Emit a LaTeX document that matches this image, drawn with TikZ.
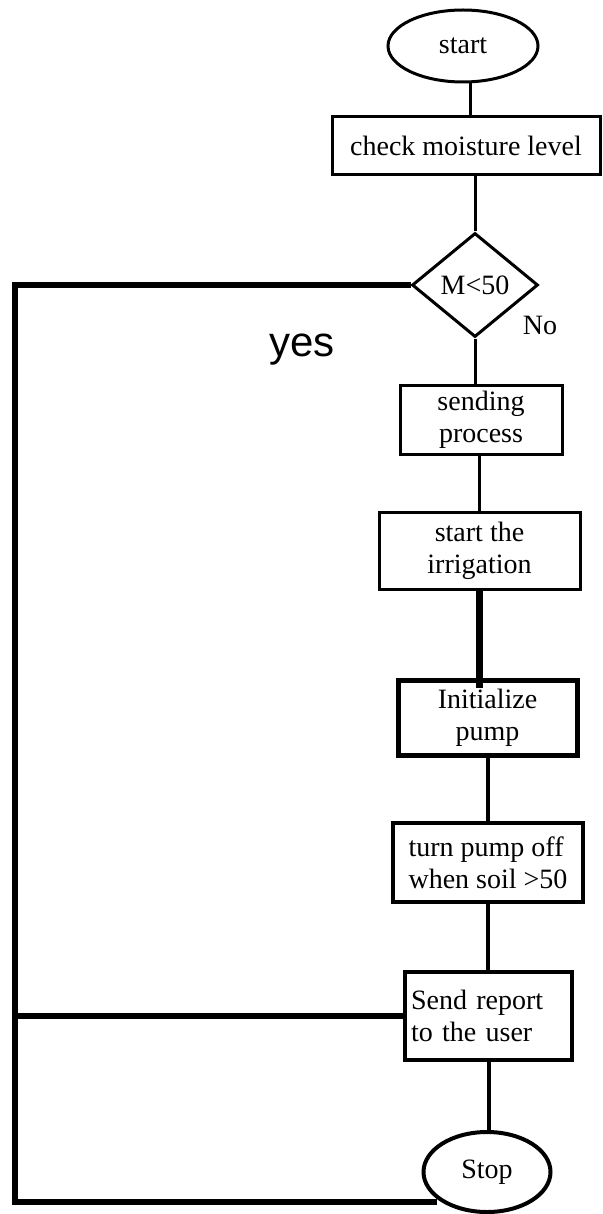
\documentclass[tikz,border=0pt]{standalone}
\usepackage{fontspec}
\setmainfont{Liberation Serif}
\newfontfamily\yesfont{Liberation Sans}
\usepackage{tikz}
\usetikzlibrary{shapes.geometric}
\tikzset{%
  every box/.style={
    rectangle,
    draw,
    line width=1.5pt,
    inner sep=3pt,
    align=center,
    font=\fontsize{14}{16}\selectfont
  },
  every terminal/.style={
    ellipse,
    draw,
    line width=1.5pt,
    inner sep=0pt,
    font=\fontsize{14}{16}\selectfont
  },
  every decision/.style={
    diamond,
    draw,
    line width=1.5pt,
    inner sep=0pt,
    font=\fontsize{14}{16}\selectfont
  },
  thin link/.style={line width=1.5pt},
  thick link/.style={line width=2.8pt},
}

\begin{document}
\begin{tikzpicture}[x=0.5pt, y=-0.5pt]
\useasboundingbox (0,0) rectangle (603,1214);
    % steps of the flow
    \node[every terminal, minimum width=75pt, minimum height=36pt] (start) at (463,46) {start};
    \node[every box, minimum width=134pt, minimum height=29pt] (check) at (466,146) {check moisture level};
    \node[every decision, minimum width=63pt, minimum height=52pt] (decide) at (475,285) {M<50};
    \node[every box, minimum width=81pt, minimum height=32pt] (sending) at (481,420) {sending\\process};
    \node[every box, minimum width=100.5pt, minimum height=38.5pt] (irrig) at (479.5,550.5) {start the\\irrigation};
    \node[every box, line width=2.5pt, minimum width=89.5pt, minimum height=37.5pt] (init) at (487.5,717.5) {Initialize\\pump};
    \node[every box, line width=2pt, align=left, minimum width=95pt, minimum height=39.5pt] (pumpoff) at (488,862.5) {turn pump off\\when soil >50};
    \node[every box, line width=2pt, align=left, text width=77.5pt, minimum height=44pt] (report) at (488.5,1016) {Send report\\to the user};
    \node[every terminal, line width=2pt, minimum width=63.5pt, minimum height=40pt] (stop) at (487,1172) {Stop};
    \node[font=\fontsize{14}{16}\selectfont] (no label) at (540,325) {No};
    \node[font=\yesfont\fontsize{21}{24}\selectfont] (yes label) at (302,350) {yes};
    \coordinate (loop corner) at (15,1202);
    \coordinate (stop join) at (437,1202);
    % connectors
    \draw[thin link] ([xshift=3.5pt]start.south) -- ([xshift=3.5pt]start.south |- check.north);
    \draw[thin link] (decide.north |- check.south) -- (decide.north);
    \draw[thin link] (decide.south) -- (decide.south |- sending.north);
    \draw[thin link] (irrig.north |- sending.south) -- (irrig.north);
    \draw[line width=3.5pt] (irrig.south) -- ([yshift=-5pt]irrig.south |- init.north);
    \draw[line width=2pt] (init.south) -- (init.south |- pumpoff.north);
    \draw[line width=2pt] (pumpoff.south) -- (pumpoff.south |- report.north);
    \draw[line width=2pt] (report.south) -- (report.south |- stop.north);
    \draw[thick link] (decide.west) -- (decide.west -| loop corner) -- (loop corner) -- (stop join);
    \draw[thick link] (loop corner |- report.west) -- (report.west);
\end{tikzpicture}
\end{document}
